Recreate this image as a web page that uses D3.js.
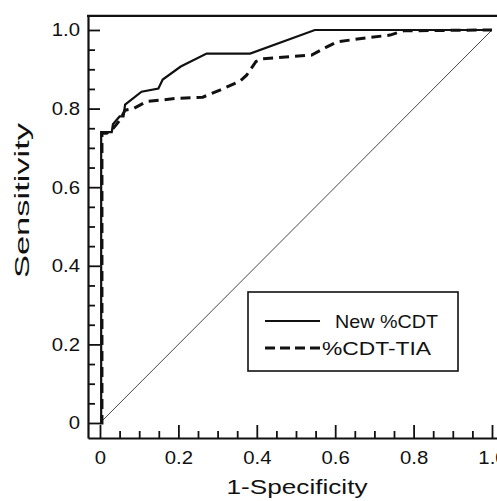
<!DOCTYPE html>
<html><head><meta charset="utf-8">
<script src="https://cdn.jsdelivr.net/npm/d3@7/dist/d3.min.js"></script>
<style>body{margin:0;background:#fff}svg{display:block}</style>
</head><body><svg id="c" width="497" height="501"></svg>
<script>
// ---- data ----
const seriesNames = ["New %CDT", "%CDT-TIA"];
const newCDT_fpr = [0, 0.003, 0.003, 0.03, 0.033, 0.05, 0.06, 0.064, 0.077, 0.106, 0.149, 0.16, 0.206, 0.272, 0.383, 0.548, 1.0];
const newCDT_tpr = [0, 0, 0.74, 0.74, 0.76, 0.78, 0.78, 0.81, 0.82, 0.843, 0.851, 0.874, 0.907, 0.94, 0.94, 1.0, 1.0];
const cdtTIA_fpr = [0, 0.005, 0.005, 0.017, 0.03, 0.051, 0.064, 0.085, 0.119, 0.196, 0.262, 0.306, 0.357, 0.374, 0.398, 0.415, 0.54, 0.575, 0.605, 0.68, 0.74, 0.775, 1.0];
const cdtTIA_tpr = [0, 0, 0.737, 0.737, 0.745, 0.771, 0.796, 0.80, 0.818, 0.826, 0.829, 0.847, 0.870, 0.885, 0.92, 0.927, 0.936, 0.955, 0.97, 0.98, 0.987, 0.998, 1.0];
const chanceLine = [0, 1];
const majorTicks = [0, 0.2, 0.4, 0.6, 0.8, 1.0];
const xTickLabels = ["0", "0.2", "0.4", "0.6", "0.8", "1.0"];
const yTickLabels = ["0", "0.2", "0.4", "0.6", "0.8", "1.0"];
const minorTicks = [0.05,0.1,0.15,0.25,0.3,0.35,0.45,0.5,0.55,0.65,0.7,0.75,0.85,0.9,0.95];
const xTitle = "1-Specificity";
const yTitle = "Sensitivity";

// ---- layout ----
const svg = d3.select("#c");
const font = "'Liberation Sans', Arial, Helvetica, sans-serif";
const x = d3.scaleLinear().domain([-0.0306, 1.03]).range([88, 88 + 392 * 1.0606]);
const y = d3.scaleLinear().domain([-0.0382, 1.036]).range([438, 438 - 393 * 1.0742]);
const ink = "#111";

function stretch(sel, k) {
  sel.each(function () {
    const w = this.getComputedTextLength();
    this.setAttribute("textLength", w * k);
    this.setAttribute("lengthAdjust", "spacingAndGlyphs");
  });
}

// chance diagonal
svg.append("line")
  .attr("x1", x(chanceLine[0])).attr("y1", y(chanceLine[0]))
  .attr("x2", x(chanceLine[1])).attr("y2", y(chanceLine[1]))
  .attr("stroke", "#333").attr("stroke-width", 0.9);

// curves
const line = d3.line().x(d => x(d[0])).y(d => y(d[1]));
const solidData = newCDT_fpr.map((v, i) => [v, newCDT_tpr[i]]);
const dashData = cdtTIA_fpr.map((v, i) => [v, cdtTIA_tpr[i]]);
svg.append("path").datum(dashData).attr("d", line)
  .attr("fill", "none").attr("stroke", ink).attr("stroke-width", 3)
  .attr("stroke-dasharray", "10,6");
svg.append("path").datum(solidData).attr("d", line)
  .attr("fill", "none").attr("stroke", ink).attr("stroke-width", 2.2);

// axes
const gx = svg.append("g").attr("transform", `translate(0,${y.range()[0]})`);
gx.call(d3.axisBottom(x).tickValues(majorTicks).tickSize(-13).tickSizeOuter(0).tickPadding(13)
  .tickFormat((d, i) => xTickLabels[i]));
const gxm = svg.append("g").attr("transform", `translate(0,${y.range()[0]})`);
gxm.call(d3.axisBottom(x).tickValues(minorTicks).tickSize(-7).tickSizeOuter(0).tickFormat(""));
gxm.select(".domain").remove();

const gy = svg.append("g").attr("transform", `translate(${x.range()[0]},0)`);
gy.call(d3.axisLeft(y).tickValues(majorTicks).tickSize(-12).tickSizeOuter(0).tickPadding(8)
  .tickFormat((d, i) => yTickLabels[i]));
const gym = svg.append("g").attr("transform", `translate(${x.range()[0]},0)`);
gym.call(d3.axisLeft(y).tickValues(minorTicks).tickSize(-7).tickSizeOuter(0).tickFormat(""));
gym.select(".domain").remove();

svg.selectAll(".domain").attr("stroke", ink).attr("stroke-width", 2.2);
svg.selectAll(".tick line").attr("stroke", ink).attr("stroke-width", 1.8);
svg.selectAll(".tick text").attr("font-family", font).attr("font-size", 18.5).attr("fill", ink);
stretch(gx.selectAll(".tick text"), 1.1);
stretch(gy.selectAll(".tick text"), 1.1);

// top frame line
svg.append("line")
  .attr("x1", x.range()[0] - 1).attr("x2", x.range()[1])
  .attr("y1", y.range()[1]).attr("y2", y.range()[1])
  .attr("stroke", ink).attr("stroke-width", 2.2);

// titles
const xt = svg.append("text").attr("x", 297).attr("y", 494).attr("text-anchor", "middle")
  .attr("font-family", font).attr("font-size", 21).attr("fill", ink).text(xTitle);
xt.attr("textLength", 141).attr("lengthAdjust", "spacingAndGlyphs");
const yt = svg.append("text").attr("transform", "translate(29,200.5) rotate(-90)")
  .attr("text-anchor", "middle").attr("font-family", font).attr("font-size", 21)
  .attr("fill", ink).text(yTitle);
yt.attr("textLength", 155).attr("lengthAdjust", "spacingAndGlyphs");

// legend
const lg = svg.append("g");
lg.append("rect").attr("x", 248).attr("y", 292).attr("width", 210).attr("height", 79)
  .attr("fill", "#fff").attr("stroke", ink).attr("stroke-width", 1.6);
const legendRows = [
  { name: seriesNames[0], dash: null, w: 2, y: 321, tx: 335, tl: 103 },
  { name: seriesNames[1], dash: "10,5", w: 3, y: 348, tx: 322, tl: 109 }
];
legendRows.forEach(r => {
  lg.append("line").attr("x1", 265).attr("x2", 320).attr("y1", r.y).attr("y2", r.y)
    .attr("stroke", ink).attr("stroke-width", r.w).attr("stroke-dasharray", r.dash);
  lg.append("text").attr("x", r.tx).attr("y", r.y + 6.5).attr("font-family", font)
    .attr("font-size", 18.5).attr("fill", ink).text(r.name)
    .attr("textLength", r.tl).attr("lengthAdjust", "spacingAndGlyphs");
});
</script></body></html>
